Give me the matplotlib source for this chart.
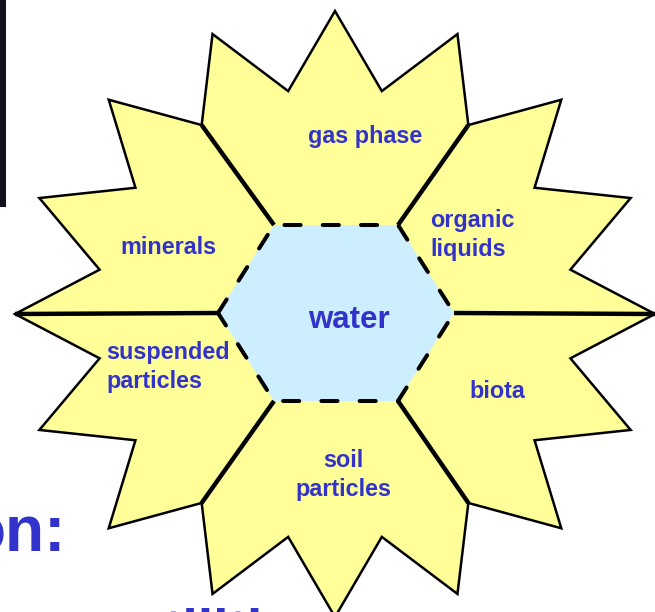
import numpy as np
import matplotlib
matplotlib.use("Agg")
import matplotlib.pyplot as plt
from matplotlib.patches import Polygon, Rectangle

plt.rcParams['font.family'] = ['Liberation Sans', 'DejaVu Sans']

# ---- data ----
labels = ["gas phase", "organic\nliquids", "biota", "soil\nparticles",
          "suspended\nparticles", "minerals"]
label_x = [365, 430, 497, 343, 106, 168]
label_y = [137, 235, 391, 475, 367, 248]
label_ha = ["center", "left", "center", "center", "left", "center"]
center_label = "water"

n_points = 16
inner_ratio = 0.75
star_center = (335, 314)
star_radii = (320, 303)
hex_center = (336, 313)
hex_half_w = 118
hex_top_half_w = 62
hex_half_h = 88

BLUE = "#3333CC"
YELLOW = "#FFFF99"
LIGHTBLUE = "#CCEEFF"

fig = plt.figure(figsize=(6.55, 6.12), dpi=100)
ax = fig.add_axes([0, 0, 1, 1])
ax.set_xlim(0, 655)
ax.set_ylim(612, 0)
ax.axis("off")

cx, cy = star_center
sx, sy = star_radii

def star_pt(theta_deg, r):
    t = np.deg2rad(theta_deg)
    return (cx + sx * r * np.sin(t), cy - sy * r * np.cos(t))

pts = []
step = 360 / n_points
for k in range(n_points):
    pts.append(star_pt(k * step, 1.0))
    pts.append(star_pt(k * step + step / 2, inner_ratio))
ax.add_patch(Polygon(pts, closed=True, facecolor=YELLOW, edgecolor="black",
                     lw=1.8, joinstyle="miter", zorder=2))

hx, hy = hex_center
hexv = [(hx - hex_half_w, hy), (hx - hex_top_half_w, hy - hex_half_h),
        (hx + hex_top_half_w, hy - hex_half_h), (hx + hex_half_w, hy),
        (hx + hex_top_half_w, hy + hex_half_h), (hx - hex_top_half_w, hy + hex_half_h)]
ax.add_patch(Polygon(hexv, closed=True, facecolor=LIGHTBLUE, edgecolor="none", zorder=3))

# spokes
targets = [star_pt(270, 1.0), star_pt(326.25, inner_ratio), star_pt(33.75, inner_ratio),
           star_pt(90, 1.0), star_pt(146.25, inner_ratio), star_pt(213.75, inner_ratio)]
for (x0, y0), (x1, y1) in zip(hexv, targets):
    ax.plot([x0, x1], [y0, y1], color="black", lw=3.2, solid_capstyle="butt", zorder=4)

# dashed hexagon outline
hx_closed = hexv + [hexv[0]]
ax.plot([p[0] for p in hx_closed], [p[1] for p in hx_closed], color="black", lw=2.9,
        linestyle=(0, (4, 5.5)), dash_capstyle="round", zorder=5)

for t, x, y, ha in zip(labels, label_x, label_y, label_ha):
    ax.text(x, y, t, color=BLUE, fontsize=16.8, fontweight="bold", ha=ha,
            va="center", linespacing=1.28, zorder=6)
ax.text(349, 320, center_label, color=BLUE, fontsize=22.5, fontweight="bold",
        ha="center", va="center", zorder=6)

# background fragments of slide
ax.add_patch(Rectangle((0, 0), 6, 207, facecolor="#140f1e", edgecolor="none", zorder=1))
ax.text(66, 552, "on:", color=BLUE, fontsize=46, fontweight="bold", ha="right",
        va="baseline", zorder=1)
ax.text(131, 648, "utilities", color=BLUE, fontsize=40, fontweight="bold", ha="left",
        va="baseline", zorder=1, clip_on=True)

fig.savefig("out.png", dpi=100)
